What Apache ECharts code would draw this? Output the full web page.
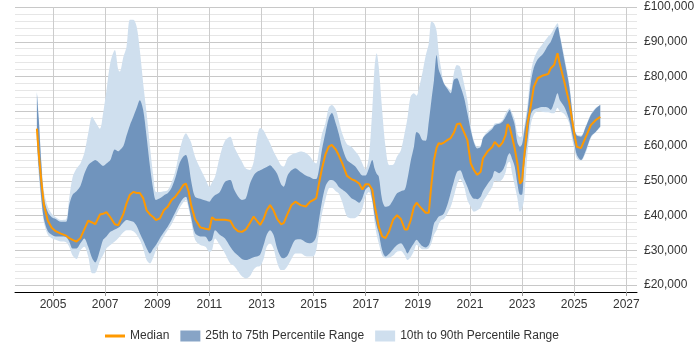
<!DOCTYPE html>
<html>
<head>
<meta charset="utf-8">
<script src="https://cdn.jsdelivr.net/npm/echarts@6/dist/echarts.min.js"></script>
<style>
  html, body { margin: 0; padding: 0; background: #fff; }
  #salaryChart { width: 700px; height: 350px; }
</style>
</head>
<body>
<div id="salaryChart"></div>
<script>
// sample dates (decimal years) and salary percentiles in £k
const years = [
  2004.38, 2004.45, 2004.55, 2004.65, 2004.8, 2004.95, 2005.1, 2005.3, 2005.5, 2005.62,
  2005.75, 2005.9, 2006.05, 2006.2, 2006.35, 2006.5, 2006.62, 2006.8, 2006.92, 2007.05,
  2007.2, 2007.37, 2007.5, 2007.56, 2007.7, 2007.82, 2007.95, 2008.08, 2008.21, 2008.33,
  2008.46, 2008.59, 2008.72, 2008.85, 2008.95, 2009.1, 2009.25, 2009.4, 2009.55, 2009.7,
  2009.85, 2010.0, 2010.1, 2010.2, 2010.3, 2010.45, 2010.65, 2010.85, 2011.0, 2011.1,
  2011.22, 2011.4, 2011.6, 2011.8, 2011.95, 2012.1, 2012.25, 2012.4, 2012.55, 2012.7,
  2012.82, 2012.95, 2013.08, 2013.2, 2013.33, 2013.46, 2013.6, 2013.75, 2013.85, 2014.0,
  2014.15, 2014.3, 2014.5, 2014.7, 2014.87, 2015.0, 2015.1, 2015.2, 2015.32, 2015.45,
  2015.58, 2015.7, 2015.85, 2015.96, 2016.1, 2016.28, 2016.45, 2016.6, 2016.75, 2016.87,
  2016.99, 2017.12, 2017.25, 2017.34, 2017.42, 2017.5, 2017.63, 2017.76, 2017.9, 2018.05,
  2018.2, 2018.35, 2018.5, 2018.6, 2018.72, 2018.85, 2018.95, 2019.05, 2019.17, 2019.3,
  2019.42, 2019.52, 2019.62, 2019.72, 2019.8, 2019.9, 2020.0, 2020.13, 2020.26, 2020.38,
  2020.5, 2020.62, 2020.77, 2020.9, 2021.03, 2021.15, 2021.28, 2021.41, 2021.5, 2021.67,
  2021.86, 2021.95, 2022.12, 2022.25, 2022.37, 2022.44, 2022.52, 2022.62, 2022.72, 2022.82,
  2022.92, 2023.0, 2023.08, 2023.21, 2023.33, 2023.45, 2023.6, 2023.8, 2024.0, 2024.1,
  2024.23, 2024.36, 2024.45, 2024.62, 2024.81, 2024.92, 2025.0, 2025.1, 2025.26, 2025.45,
  2025.64, 2025.83, 2026.0
];
const p10 = [
  61, 52, 44, 38, 34.5, 33.5, 33, 32.5, 32.3, 31,
  28.5, 27.5, 30, 31, 28.2, 23.4, 23.5, 27, 28.6, 30.5,
  31.5, 32.5, 33.5, 34, 35.2, 35.8, 35.8, 35.5, 34.5, 33,
  30.5, 27.2, 26.2, 28, 30, 32, 34, 35.8, 37.5, 39.7,
  42, 43.8, 44.5, 42, 38.5, 33, 31.5, 31, 29.5, 30,
  33.4, 31.5, 29.1, 26.2, 25.5, 24, 22.5, 21.9, 22.5, 24.5,
  25.3, 25.5, 27.5, 31, 32, 30.5, 26.5, 24.3, 24.3, 25.5,
  27.5, 29.1, 29.1, 28.3, 28.2, 28.3, 30, 34.9, 40.5, 44.5,
  47.8, 48, 47, 46.4, 43.8, 39.7, 39.2, 39.3, 40.2, 42,
  45.5, 46.8, 44, 38, 34.5, 32, 28.5, 27.7, 27.9, 28.5,
  29.6, 29.8, 28.5, 27.2, 28, 29.8, 31.6, 31, 30.3, 30.3,
  30.6, 32, 34.5, 35.8, 37.5, 38.7, 39, 40.5, 42.5, 45.5,
  48.8, 50.5, 48.5, 44.5, 42.5, 41.1, 41.5, 42.3, 44, 46,
  48.3, 50, 49.8, 50.5, 52.5, 55, 55.5, 52, 48.5, 45,
  41.1, 42, 45, 58, 66, 69, 69.9, 69.8, 69.7, 69.5,
  69.4, 71, 70, 69.2, 66.5, 62, 59.2, 56.5, 55.8, 58.2,
  62.3, 64, 65.4
];
const p25 = [
  62, 54, 45, 39, 35.5, 34.5, 34, 34, 33.8, 32.5,
  30.5, 30.5, 32, 33.4, 31, 27.7, 26.5, 30, 33, 34,
  35.3, 36, 36.5, 36.8, 38, 38.7, 38.5, 38.2, 37, 34.9,
  32.8, 30.6, 29.1, 30.5, 31.5, 33.5, 35.2, 36.8, 38.8, 41,
  43.3, 45, 45.4, 43, 39.5, 34.9, 34, 33.9, 32.5, 33,
  35.8, 34.5, 33.4, 31, 29.5, 28.5, 27.5, 27.2, 27.5, 28,
  28.2, 28.8, 31.5, 34.5, 35.8, 34.5, 30.5, 28, 27.7, 28.5,
  31, 33, 33.2, 32.3, 32, 32.5, 34, 38.5, 44, 48.3,
  50, 50.2, 49.5, 48.3, 47.5, 46.4, 45, 44.4, 43.7, 45,
  47.5, 48.3, 44.5, 40, 37, 34.9, 30, 28.2, 29, 30.3,
  31.5, 32, 30.5, 29.1, 30.5, 32, 33, 32.2, 31.2, 30.8,
  31.5, 34, 37.7, 38.8, 39.7, 40, 40.6, 43, 46.5, 49.7,
  52.5, 53, 50.5, 48.3, 45.9, 44.8, 44.7, 45.4, 47, 49,
  51, 52.8, 52.2, 53, 55, 57, 57.9, 56.2, 54, 49.2,
  46, 46, 54.1, 61.7, 69, 70.5, 70.9, 71.2, 71, 70.4,
  72.5, 75.2, 73.2, 71.3, 67.5, 63.5, 60.8, 57.5, 56, 58.8,
  62.7, 64.1, 65.6
];
const median = [
  65, 58, 50, 43, 38.5, 36.5, 35.5, 34.8, 34.2, 33.5,
  33, 32.5, 33.5, 36, 38.5, 38, 37.5, 40.3, 40.5, 41,
  39.5, 37.5, 37.2, 37.3, 40.5, 43.5, 46, 46.8, 46.5, 46.5,
  45, 41.5, 40.3, 39.5, 38.7, 39.2, 41.5, 42.5, 44.5, 45.5,
  47, 48.8, 49.2, 47, 43, 39, 36.6, 36.2, 36, 39.5,
  38.8, 38.8, 38.8, 38.5, 36.5, 35.5, 35.3, 36, 37.8, 39.7,
  38.5, 37.3, 39, 41.5, 43, 41.5, 39, 37.5, 37.8, 40.5,
  43, 44, 43, 42.6, 44, 44.5, 45, 49, 53.5, 57.5,
  59.8, 60.3, 59, 57.4, 55, 51.4, 50.5, 50, 49.2, 47.5,
  49, 49, 47.5, 43, 40, 36.8, 34, 33.5, 35.5, 38.8,
  40.1, 39, 36, 36, 38.5, 42.5, 43.7, 42.8, 41.8, 40.8,
  40.8, 49, 56, 59.5, 60.8, 60.6, 61, 61.7, 62.3, 63.8,
  66.3, 66.5, 64, 61.7, 55, 53.1, 51.7, 52.6, 56.5, 58.4,
  59.8, 61.2, 59.8, 61, 63.2, 66.3, 65.5, 62.5, 59.2, 55,
  49.2, 50, 56.9, 66.5, 71.3, 77, 79.5, 80.3, 80.7, 82.4,
  83.3, 86.7, 83.5, 78.5, 72.5, 67.5, 63.7, 59.8, 59.4, 62.7,
  66, 67.5, 68.4
];
const p75 = [
  75.5, 68, 55, 45, 41, 39.5, 39, 38.2, 38.2, 43,
  46, 47, 48.5, 52, 54.5, 55.5, 56, 55, 54.3, 55,
  56, 59, 58.5, 58.8, 60, 63, 66, 68.4, 71, 73.2,
  70.4, 62.7, 54.1, 47.3, 44.5, 45, 45.8, 46.4, 48, 51,
  55, 57, 57.4, 55, 50, 45.4, 44.8, 44.3, 44, 45,
  45.9, 46.8, 49.7, 50.2, 47.5, 45.5, 44.5, 45, 49, 51.5,
  52.5, 53, 53.5, 54, 54.5, 53.5, 52, 49, 48.3, 51.5,
  53, 53.6, 52.5, 51.5, 51, 50.5, 50.5, 53, 59, 63.7,
  68, 69.5, 66.5, 63.7, 59.5, 56, 55, 54.1, 52.5, 51.5,
  51.5, 53.5, 56, 53.5, 52, 51.2, 44.5, 42.5, 42.8, 44.5,
  46.4, 47, 47.5, 50.5, 55.5, 59.8, 64, 63.5, 61.7, 61.5,
  67, 73.2, 79, 86.2, 82, 80, 78, 76.5, 75.2, 79,
  79.5, 77.5, 74, 69.4, 64.6, 61, 59.3, 59.8, 62.3, 63.7,
  65, 66, 66.4, 67, 68.4, 69.5, 70.4, 68.5, 66, 61,
  59.8, 60.5, 64, 70, 78, 82.5, 85, 86.5, 89, 90,
  92.4, 94.3, 91.5, 84.8, 77.1, 70, 65.2, 63, 62.7, 65.6,
  68.9, 70.8, 71.8
];
const p90 = [
  76, 69, 56, 47, 42.5, 40.5, 39.5, 38.7, 38.9, 45,
  51, 53.5, 55, 58, 63.7, 68.4, 67, 65, 69.4, 76,
  84, 87.6, 82, 81.4, 85.7, 88.5, 96.3, 96.3, 94.3, 87.6,
  78, 69.4, 59.8, 51.2, 46.8, 46.8, 47, 47.3, 49.5, 53,
  58.5, 62.5, 63.7, 62.5, 61, 56.9, 53.5, 50.5, 48.3, 49.5,
  51.2, 57, 61.5, 62.7, 59.8, 57.5, 55.5, 53.5, 53.1, 55.5,
  62, 65.2, 64.5, 62.7, 60.8, 58.5, 56.5, 54.5, 54.1, 56.5,
  57.5, 57.9, 58.4, 58, 56.9, 55.5, 55, 58.5, 63.5, 66.5,
  71, 71.8, 70.5, 67.5, 63.5, 60.5, 59.8, 58.5, 57, 55,
  53.3, 56.9, 70.4, 82.8, 86.7, 82.8, 70.4, 59.8, 54.5, 54.6,
  57, 58.8, 64, 68, 74.2, 75.2, 74.5, 77, 80.9, 86,
  89.5, 95.8, 95.3, 93, 86.7, 82, 78, 77, 76.1, 80.9,
  83.3, 82.8, 78, 73.2, 65.6, 61.5, 59.8, 60.2, 62.5, 64.2,
  65.4, 66.5, 66.7, 67.5, 69.4, 70.3, 70.9, 69.5, 67.5, 63.5,
  62.5, 63, 65.5, 72, 80.9, 85, 87.5, 89.5, 91.5, 92.2,
  93.9, 95.3, 92, 85.7, 78, 71, 65.6, 63.3, 63, 65.8,
  69.2, 71, 71.8
];
const yearTicks = [2005, 2007, 2009, 2011, 2013, 2015, 2017, 2019, 2021, 2023, 2025, 2027];

// value first, year second, so the stack runs on the y values (see encode below)
const pairs = (vals) => vals.map((v, i) => [v * 1000, years[i]]);
const spread = (hi, lo) => hi.map((v, i) => [(v - lo[i]) * 1000, years[i]]);

const money = (v) => "£" + String(v).replace(/\B(?=(\d{3})+(?!\d))/g, ",");

const lightBlue = "#cfdfee";
const darkBlue = "#7094bd";

const chart = echarts.init(document.getElementById("salaryChart"));

const bandBase = (name, stack, vals) => ({
  name: name,
  type: "line",
  stack: stack,
  encode: { x: 1, y: 0 },
  data: pairs(vals),
  symbol: "none",
  smooth: 0.3,
  lineStyle: { opacity: 0 },
  silent: true,
});

const bandFill = (name, stack, hi, lo, color) => ({
  name: name,
  type: "line",
  stack: stack,
  encode: { x: 1, y: 0 },
  data: spread(hi, lo),
  symbol: "none",
  smooth: 0.3,
  lineStyle: { width: 0, color: color },
  itemStyle: { color: color },
  areaStyle: { color: color, opacity: 1 },
});

const option = {
  animation: false,
  textStyle: { fontFamily: "Liberation Sans, Arial, sans-serif" },
  grid: { left: 15, right: 63, top: 7, bottom: 58 },
  xAxis: {
    type: "value",
    min: 2003.54,
    max: 2027.41,
    axisLine: { lineStyle: { color: "#000", width: 1 } },
    axisTick: { customValues: yearTicks, length: 4, lineStyle: { color: "#999" } },
    axisLabel: {
      customValues: yearTicks,
      formatter: (v) => String(v),
      color: "#333",
      fontSize: 12,
      margin: 7,
    },
    splitLine: { show: true, lineStyle: { color: "#ccc" } },
  },
  yAxis: {
    type: "value",
    position: "right",
    min: 18000,
    max: 100000,
    interval: 2000,
    axisLine: { show: false },
    axisTick: { show: false },
    axisLabel: {
      formatter: (v) => (v % 10000 === 0 ? money(v) : ""),
      color: "#333",
      fontSize: 12,
      margin: 7,
    },
    splitLine: {
      lineStyle: { color: ["#e6e6e6", "#c8c8c8", "#e6e6e6", "#e6e6e6", "#e6e6e6"] },
    },
  },
  legend: {
    left: 100,
    top: 325,
    itemWidth: 20,
    itemHeight: 11,
    itemGap: 11,
    textStyle: { color: "#333", fontSize: 12 },
    data: [
      { name: "Median", icon: "path://M0,0 h20 v3 h-20 z", itemStyle: { color: "#ff9900" } },
      { name: "25th to 75th Percentile Range", icon: "rect", itemStyle: { color: "#87a4c6" } },
      { name: "10th to 90th Percentile Range", icon: "rect", itemStyle: { color: lightBlue } },
    ],
  },
  series: [
    bandBase("p10", "outer", p10),
    bandFill("10th to 90th Percentile Range", "outer", p90, p10, lightBlue),
    bandBase("p25", "inner", p25),
    bandFill("25th to 75th Percentile Range", "inner", p75, p25, darkBlue),
    {
      name: "Median",
      type: "line",
      encode: { x: 1, y: 0 },
      data: pairs(median),
      symbol: "none",
      lineStyle: { color: "#ff9900", width: 2 },
      itemStyle: { color: "#ff9900" },
    },
  ],
};

chart.setOption(option);
</script>
</body>
</html>
